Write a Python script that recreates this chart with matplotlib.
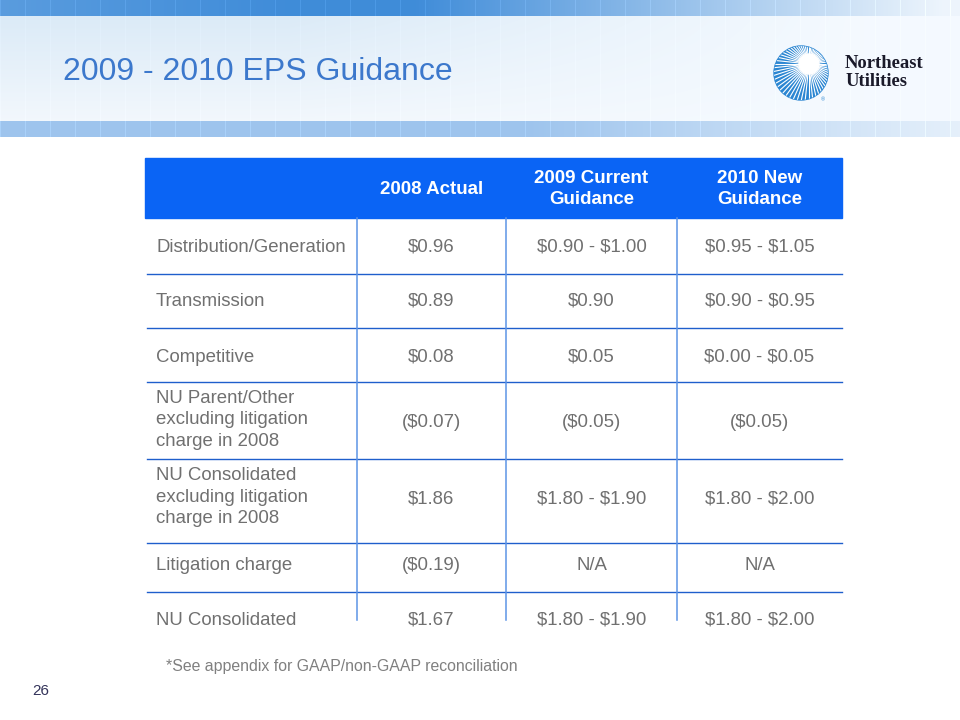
import matplotlib
matplotlib.use("Agg")
import matplotlib.pyplot as plt
import numpy as np
from matplotlib.patches import Circle, Rectangle

plt.rcParams["font.family"] = ["Liberation Sans", "DejaVu Sans"]
plt.rcParams["text.parse_math"] = False

TITLE = "2009 - 2010 EPS Guidance"
col_headers = ["2008 Actual", "2009 Current\nGuidance", "2010 New\nGuidance"]
row_labels = [
    "Distribution/Generation",
    "Transmission",
    "Competitive",
    "NU Parent/Other\nexcluding litigation\ncharge in 2008",
    "NU Consolidated\nexcluding litigation\ncharge in 2008",
    "Litigation charge",
    "NU Consolidated",
]
actual_2008 = ["$0.96", "$0.89", "$0.08", "($0.07)", "$1.86", "($0.19)", "$1.67"]
guidance_2009 = ["$0.90 - $1.00", "$0.90", "$0.05", "($0.05)", "$1.80 - $1.90", "N/A", "$1.80 - $1.90"]
guidance_2010 = ["$0.95 - $1.05", "$0.90 - $0.95", "$0.00 - $0.05", "($0.05)", "$1.80 - $2.00", "N/A", "$1.80 - $2.00"]
FOOTNOTE = "*See appendix for GAAP/non-GAAP reconciliation"
PAGE = "26"

# layout (pixel coordinates)
W, H = 960, 720
TABLE_L, TABLE_R = 145, 842
HEAD_T, HEAD_B = 158, 218
ROW_EDGES = [218, 274, 328, 382, 459, 543, 592, 642]
COL_EDGES = [145, 357, 506, 677, 842]
VLINE_END = 620

HEADER_BLUE = "#0A64F5"
LINE_BLUE = "#1F5FCC"
VLINE_BLUE = "#5C94E6"
TEXT_GRAY = "#707070"
BODY_SIZE = 13.4
CAP_PX = BODY_SIZE * 100 / 72 * 0.716


def banner_image() -> np.ndarray:
    x = np.linspace(0, 1, W)
    img = np.ones((140, W, 3))
    # top stripe
    dark = np.array([0.25, 0.55, 0.85])
    light = np.array([0.93, 0.96, 0.99])
    w = np.clip(1.15 - (x - 0.35) / 0.55, 0, 1)[:, None]
    w = w * (0.85 + 0.15 * np.clip(x / 0.3, 0, 1))[:, None]
    top = dark * w + light * (1 - w)
    img[0:16] = top[None, :, :]
    # middle band
    for y in range(16, 121):
        t = (y - 16) / 104
        c_left = np.array([0.86, 0.92, 0.97]) * (1 - t) + np.array([0.95, 0.97, 0.99]) * t
        c_right = np.array([0.96, 0.98, 1.0])
        f = np.clip((x - 0.3) / 0.6, 0, 1)[:, None]
        img[y] = c_left * (1 - f) + c_right * f
    # bottom stripe
    mid = np.array([0.62, 0.77, 0.93])
    wb = np.clip(1.2 - (x - 0.45) / 0.5, 0, 1)[:, None]
    bot = mid * wb + light * (1 - wb)
    img[121:137] = bot[None, :, :]
    img[137:140] = 1.0
    # faint vertical grid in the stripes
    for gx in range(0, W, 25):
        for (y0, y1), amt in (((0, 16), 0.05), ((16, 121), 0.012), ((121, 137), 0.05)):
            img[y0:y1, gx] = np.minimum(img[y0:y1, gx] + amt, 1.0)
    return img


def draw_logo(ax) -> None:
    cx, cy, r = 801, 73, 27
    hx, hy, hr = 809, 64, 10
    disk = Circle((cx, cy), r, color="#2B86D2", zorder=5)
    ax.add_patch(disk)
    for ang in np.arange(0, 360, 6):
        a = np.deg2rad(ang)
        line, = ax.plot([hx, hx + 60 * np.cos(a)], [hy, hy + 60 * np.sin(a)],
                        color="white", lw=0.8, zorder=6)
        line.set_clip_path(disk)
    ax.add_patch(Circle((hx, hy), hr, color="white", zorder=7))
    ax.text(823, 100, "®", fontsize=4, color="#2B86D2", ha="center", va="center", zorder=8)
    serif = ["Liberation Serif", "DejaVu Serif"]
    ax.text(845, 63, "Northeast", fontsize=13.4, fontweight="bold", color="#1A1A2A",
            family=serif, va="center", ha="left")
    ax.text(845, 81, "Utilities", fontsize=13.4, fontweight="bold", color="#1A1A2A",
            family=serif, va="center", ha="left")


def cell_text(ax, x, yc, s, ha):
    if "\n" in s:
        ax.text(x, yc, s, color=TEXT_GRAY, fontsize=BODY_SIZE, ha=ha, va="center",
                linespacing=1.32)
    else:
        ax.text(x, yc + CAP_PX / 2, s, color=TEXT_GRAY, fontsize=BODY_SIZE, ha=ha,
                va="baseline")


def main() -> None:
    fig = plt.figure(figsize=(9.6, 7.2), dpi=100)
    ax = fig.add_axes([0, 0, 1, 1])
    ax.set_xlim(0, W)
    ax.set_ylim(H, 0)
    ax.axis("off")

    ax.imshow(banner_image(), extent=(0, W, 140, 0), aspect="auto", zorder=0)
    ax.text(63, 72, TITLE, fontsize=23, color="#3C78CC", va="center", ha="left")
    draw_logo(ax)

    # header
    ax.add_patch(Rectangle((TABLE_L, HEAD_T), TABLE_R - TABLE_L, HEAD_B - HEAD_T,
                           color=HEADER_BLUE, zorder=2))
    for j, label in enumerate(col_headers):
        xc = (COL_EDGES[j + 1] + COL_EDGES[j + 2]) / 2
        ax.text(xc, (HEAD_T + HEAD_B) / 2 + 1, label, color="white", fontsize=13.5,
                fontweight="bold", ha="center", va="center", linespacing=1.25, zorder=3)

    # grid lines
    for y in ROW_EDGES[1:-1]:
        ax.plot([TABLE_L + 2, TABLE_R], [y, y], color=LINE_BLUE, lw=1.0, zorder=2)
    for x in COL_EDGES[1:-1]:
        ax.plot([x, x], [HEAD_B, VLINE_END], color=VLINE_BLUE, lw=1.1, zorder=2)

    # body
    columns = [actual_2008, guidance_2009, guidance_2010]
    centers = [245, 299, 355, 420, 497, 563, 618]
    for i, label in enumerate(row_labels):
        yc = centers[i]
        cell_text(ax, 156, yc, label, "left")
        for j, col in enumerate(columns):
            xc = (COL_EDGES[j + 1] + COL_EDGES[j + 2]) / 2
            cell_text(ax, xc, yc, col[i], "center")

    ax.text(166, 667, FOOTNOTE, color="#808080", fontsize=11.4, ha="left", va="center")
    ax.text(32, 691, PAGE, color="#33335A", fontsize=11, ha="left", va="center")

    fig.savefig("out.png", dpi=100)
    plt.close(fig)


if __name__ == "__main__":
    main()
